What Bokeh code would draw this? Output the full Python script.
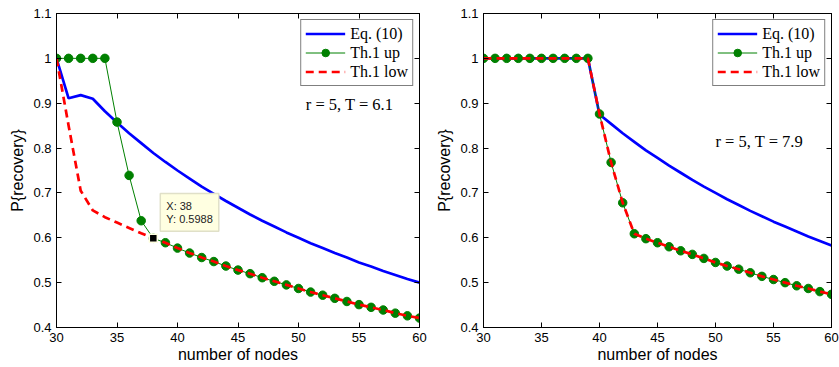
from bokeh.plotting import figure
from bokeh.layouts import row
from bokeh.models import (Legend, LegendItem, Label, LinearAxis, FixedTicker,
                          CustomJSTickFormatter, Range1d)
from bokeh.embed import file_html
from bokeh.resources import INLINE

# ---------------- data ----------------
nodes = [30, 31, 32, 33, 34, 35, 36, 37, 38, 39, 40, 41, 42, 43, 44, 45,
         46, 47, 48, 49, 50, 51, 52, 53, 54, 55, 56, 57, 58, 59, 60]

eq10_left = [1.0, 0.911, 0.918, 0.910, 0.882, 0.857, 0.833, 0.811, 0.789, 0.769,
             0.750, 0.732, 0.714, 0.698, 0.682, 0.667, 0.652, 0.638, 0.625, 0.612,
             0.600, 0.588, 0.577, 0.566, 0.556, 0.545, 0.536, 0.526, 0.517, 0.508,
             0.500]
up_left = [1.0, 1.0, 1.0, 1.0, 1.0, 0.858, 0.739, 0.638, 0.5988, 0.589,
           0.577, 0.566, 0.556, 0.547, 0.537, 0.528, 0.520, 0.511, 0.503, 0.495,
           0.487, 0.479, 0.472, 0.465, 0.458, 0.451, 0.445, 0.439, 0.432, 0.426,
           0.421]
low_left = [1.0, 0.850, 0.705, 0.661, 0.646, 0.634, 0.622, 0.610, 0.5988, 0.589,
            0.577, 0.566, 0.556, 0.547, 0.537, 0.528, 0.520, 0.511, 0.503, 0.495,
            0.487, 0.479, 0.472, 0.465, 0.458, 0.451, 0.445, 0.439, 0.432, 0.426,
            0.421]

eq10_right = [1.0, 1.0, 1.0, 1.0, 1.0, 1.0, 1.0, 1.0, 1.0, 1.0,
              0.875, 0.854, 0.833, 0.814, 0.795, 0.778, 0.761, 0.745, 0.729, 0.714,
              0.700, 0.686, 0.673, 0.660, 0.648, 0.636, 0.625, 0.614, 0.603, 0.593,
              0.583]
up_right = [1.0, 1.0, 1.0, 1.0, 1.0, 1.0, 1.0, 1.0, 1.0, 1.0,
            0.876, 0.768, 0.678, 0.609, 0.598, 0.589, 0.580, 0.571, 0.563, 0.554,
            0.545, 0.537, 0.530, 0.522, 0.514, 0.507, 0.500, 0.493, 0.487, 0.480,
            0.474]
low_right = [1.0, 1.0, 1.0, 1.0, 1.0, 1.0, 1.0, 1.0, 1.0, 1.0,
             0.876, 0.768, 0.678, 0.609, 0.598, 0.589, 0.580, 0.571, 0.563, 0.554,
             0.545, 0.537, 0.530, 0.522, 0.514, 0.507, 0.500, 0.493, 0.487, 0.480,
             0.474]

x_ticks = [30, 35, 40, 45, 50, 55, 60]
y_ticks = [0.4, 0.5, 0.6, 0.7, 0.8, 0.9, 1.0, 1.1]
legend_labels = ["Eq. (10)", "Th.1 up", "Th.1 low"]

tip_x = [38]
tip_y = [0.5988]
tip_text = "X: 38\nY: 0.5988"

notes = [("r = 5, T = 6.1", 50.6, 0.897), ("r = 5, T = 7.9", 50.0, 0.815)]

BLUE = "#0000FF"
GREEN = "#008000"
RED = "#FF0000"
SANS = "Liberation Sans"
SERIF = "Liberation Serif"

fmt = CustomJSTickFormatter(code="return String(Number(tick.toFixed(2)));")
blank = CustomJSTickFormatter(code="return '';")


def style_axis(ax, labels=True):
    ax.major_tick_in = 5
    ax.major_tick_out = 0
    ax.minor_tick_line_color = None
    ax.axis_line_color = "black"
    ax.axis_line_width = 1
    ax.major_tick_line_color = "black"
    ax.major_label_text_font = SANS
    ax.major_label_text_font_size = "13px"
    ax.major_label_text_color = "black"
    if not labels:
        ax.formatter = blank
        ax.major_label_standoff = 0


def make_fig(width, bl, br, eq, up, low, note, tip=False):
    p = figure(width=width, height=367, output_backend="svg", toolbar_location=None,
               x_range=Range1d(30, 60), y_range=Range1d(0.4, 1.1),
               min_border_left=bl, min_border_right=br, min_border_top=13,
               min_border_bottom=40)
    p.background_fill_color = "white"
    p.border_fill_color = "white"
    p.outline_line_color = "black"
    p.outline_line_width = 1
    p.xgrid.visible = False
    p.ygrid.visible = False

    p.xaxis.ticker = FixedTicker(ticks=x_ticks)
    p.yaxis.ticker = FixedTicker(ticks=y_ticks)
    p.yaxis.formatter = fmt
    for ax in p.xaxis + p.yaxis:
        style_axis(ax)
    p.xaxis.major_label_standoff = 5
    p.yaxis.major_label_standoff = 5
    p.xaxis.axis_label = "number of nodes"
    p.yaxis.axis_label = "P{recovery}"
    for ax in p.xaxis + p.yaxis:
        ax.axis_label_text_font = SANS
        ax.axis_label_text_font_size = "16px"
        ax.axis_label_text_font_style = "normal"
        ax.axis_label_text_color = "black"
    p.xaxis.axis_label_standoff = 1
    p.yaxis.axis_label_standoff = 4

    top = LinearAxis(ticker=FixedTicker(ticks=x_ticks))
    right = LinearAxis(ticker=FixedTicker(ticks=y_ticks))
    style_axis(top, labels=False)
    style_axis(right, labels=False)
    p.add_layout(top, "above")
    p.add_layout(right, "right")

    r_eq = p.line(nodes, eq, line_color=BLUE, line_width=2.7)
    r_up = p.line(nodes, up, line_color=GREEN, line_width=1)
    r_upm = p.scatter(nodes, up, marker="circle", size=8.5, fill_color=GREEN,
                      line_color=GREEN)
    r_low = p.line(nodes, low, line_color=RED, line_width=2.7, line_dash="8 5")

    if tip:
        p.scatter(tip_x, tip_y, marker="square", size=8, fill_color="black",
                  line_color="#FFFFE1", line_width=1.5)
        lab = Label(x=tip_x[0], y=tip_y[0], x_offset=7, y_offset=7, text=tip_text,
                    text_font=SANS, text_font_size="11px", text_color="#222222",
                    text_align="left", text_baseline="bottom",
                    background_fill_color="#FFFFE1", border_line_color="#E0E0C8",
                    border_line_width=1.5, padding=6, text_line_height=1.15)
        p.add_layout(lab)

    txt, nx, ny = note
    p.add_layout(Label(x=nx, y=ny, text=txt, text_font=SERIF, text_font_size="16.5px",
                       text_color="black", text_align="left", text_baseline="middle"))

    leg = Legend(items=[LegendItem(label=legend_labels[0], renderers=[r_eq]),
                        LegendItem(label=legend_labels[1], renderers=[r_up, r_upm]),
                        LegendItem(label=legend_labels[2], renderers=[r_low])],
                 location="top_right")
    leg.margin = 6
    leg.padding = 4
    leg.spacing = 0
    leg.glyph_width = 40
    leg.glyph_height = 19
    leg.label_height = 19
    leg.label_standoff = 5
    leg.label_text_font = SERIF
    leg.label_text_font_size = "16px"
    leg.label_text_color = "black"
    leg.border_line_color = "black"
    leg.border_line_width = 1.2
    leg.background_fill_color = "white"
    leg.background_fill_alpha = 1
    p.add_layout(leg)
    return p


p1 = make_fig(428, 56, 9, eq10_left, up_left, low_left, notes[0], tip=True)
p2 = make_fig(411, 55, 8, eq10_right, up_right, low_right, notes[1])

layout = row(p1, p2)
open("out.html", "w").write(file_html(layout, INLINE))
